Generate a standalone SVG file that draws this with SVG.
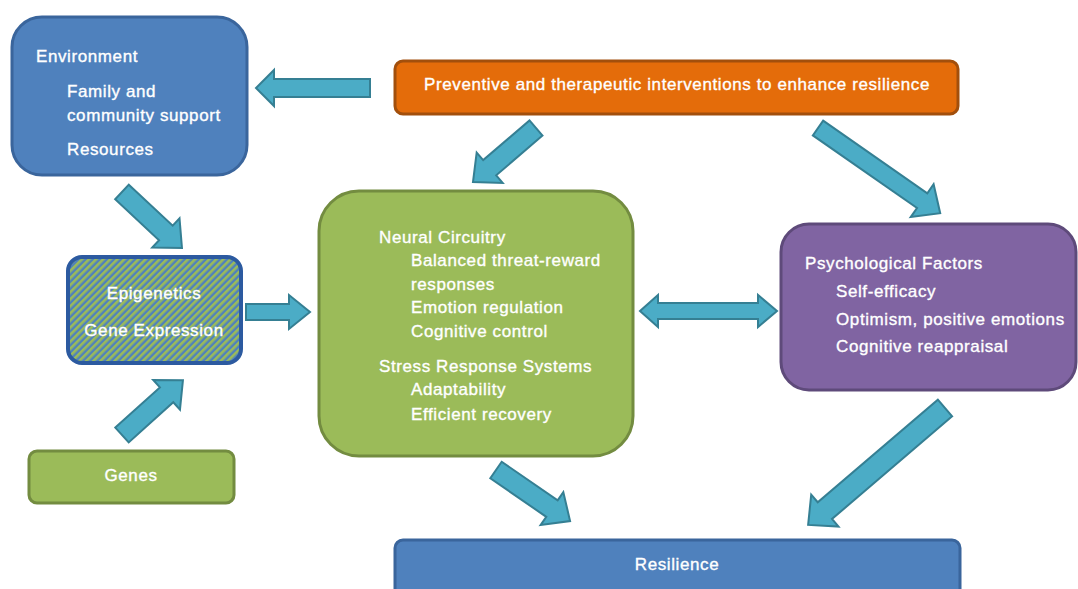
<svg xmlns="http://www.w3.org/2000/svg" width="1078" height="589" viewBox="0 0 1078 589">
<style>
text{font-family:"Liberation Sans",Arial,sans-serif;font-size:17px;fill:#ffffff;stroke:#ffffff;stroke-width:0.35px;letter-spacing:0.6px}
.c{text-anchor:middle}
.blue{fill:#4f81bd;stroke:#3a659c;stroke-width:3}
.green{fill:#9bbb59;stroke:#738c40;stroke-width:3}
.arr{fill:#4bacc6;stroke:#357f93;stroke-width:2;stroke-linejoin:miter}
</style>
<defs>
<pattern id="hatch" patternUnits="userSpaceOnUse" width="5" height="5" patternTransform="rotate(45)">
<rect width="5" height="5" fill="#4f81bd"/>
<rect width="2.6" height="5" fill="#9bbb59"/>
</pattern>
</defs>
<rect width="1078" height="589" fill="#ffffff"/>

<g id="connectors">
<polygon class="arr" transform="translate(370,88) rotate(180)" points="0,-9 96,-9 96,-18 114,0 96,18 96,9 0,9"/>
<polygon class="arr" transform="translate(122,192) rotate(43)" points="0,-10 60,-10 60,-20 82,0 60,20 60,10 0,10"/>
<polygon class="arr" transform="translate(122,435) rotate(-42)" points="0,-10 60,-10 60,-20 82,0 60,20 60,10 0,10"/>
<polygon class="arr" transform="translate(246,312)" points="0,-8 43,-8 43,-17 64,0 43,17 43,8 0,8"/>
<polygon class="arr" transform="translate(536,128) rotate(139.4)" points="0,-10 61,-10 61,-20 83,0 61,20 61,10 0,10"/>
<polygon class="arr" transform="translate(818,128) rotate(34.9)" points="0,-9 127,-9 127,-20 149,0 127,20 127,9 0,9"/>
<polygon class="arr" points="640,311 658,295 658,303 758,303 758,295 777,311 758,327 758,319 658,319 658,327"/>
<polygon class="arr" transform="translate(496,470) rotate(34.6)" points="0,-10 68,-10 68,-20 90,0 68,20 68,10 0,10"/>
<polygon class="arr" transform="translate(945,408) rotate(139.5)" points="0,-11 158,-11 158,-21 180,0 158,21 158,11 0,11"/>
</g>

<g id="environment">
<rect class="blue" x="12" y="17" width="235" height="158" rx="30"/>
<text x="36" y="62">Environment</text>
<text x="67" y="97">Family and</text>
<text x="67" y="121">community support</text>
<text x="67" y="155">Resources</text>
</g>

<g id="interventions">
<rect x="395" y="61" width="563" height="53" rx="8" fill="#e46c0a" stroke="#a24f0c" stroke-width="3"/>
<text class="c" x="677" y="90">Preventive and therapeutic interventions to enhance resilience</text>
</g>

<g id="epigenetics">
<rect x="68" y="257" width="173" height="106" rx="14" fill="url(#hatch)" stroke="#2c5aa0" stroke-width="4"/>
<text class="c" x="154" y="299">Epigenetics</text>
<text class="c" x="154" y="336">Gene Expression</text>
</g>

<g id="genes">
<rect class="green" x="29" y="451" width="205" height="52" rx="8"/>
<text class="c" x="131" y="481">Genes</text>
</g>

<g id="neural">
<rect class="green" x="319" y="191" width="314" height="265" rx="40"/>
<text x="379" y="243">Neural Circuitry</text>
<text x="411" y="266">Balanced threat-reward</text>
<text x="411" y="290">responses</text>
<text x="411" y="313">Emotion regulation</text>
<text x="411" y="337">Cognitive control</text>
<text x="379" y="372">Stress Response Systems</text>
<text x="411" y="395">Adaptability</text>
<text x="411" y="420">Efficient recovery</text>
</g>

<g id="psychological">
<rect x="781" y="224" width="295" height="166" rx="28" fill="#8064a2" stroke="#5e4a7a" stroke-width="3"/>
<text x="805" y="269">Psychological Factors</text>
<text x="836" y="297">Self-efficacy</text>
<text x="836" y="325">Optimism, positive emotions</text>
<text x="836" y="352">Cognitive reappraisal</text>
</g>

<g id="resilience">
<rect class="blue" x="395" y="540" width="565" height="70" rx="8"/>
<text class="c" x="677" y="570">Resilience</text>
</g>
</svg>
